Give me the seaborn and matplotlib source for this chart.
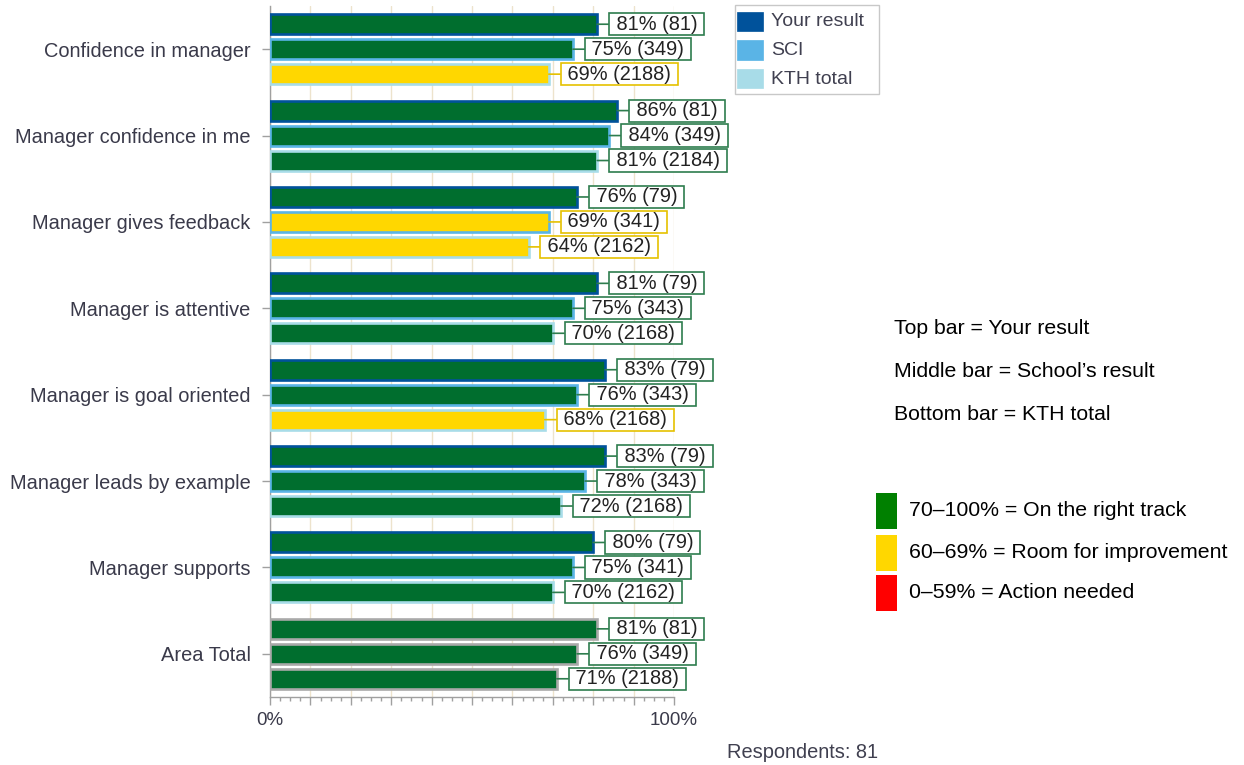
import numpy as np
import pandas as pd
import matplotlib
matplotlib.use("Agg")
import matplotlib.pyplot as plt
import seaborn as sns
from matplotlib.patches import Rectangle

# ---------------- data ----------------
questions = ["Confidence in manager", "Manager confidence in me", "Manager gives feedback",
             "Manager is attentive", "Manager is goal oriented", "Manager leads by example",
             "Manager supports", "Area Total"]
series = ["Your result", "SCI", "KTH total"]
your_pct = [81, 86, 76, 81, 83, 83, 80, 81]
your_n = [81, 81, 79, 79, 79, 79, 79, 81]
sci_pct = [75, 84, 69, 75, 76, 78, 75, 76]
sci_n = [349, 349, 341, 343, 343, 343, 341, 349]
kth_pct = [69, 81, 64, 70, 68, 72, 70, 71]
kth_n = [2188, 2184, 2162, 2168, 2168, 2168, 2162, 2188]
x_tick_labels = {0: "0%", 100: "100%"}
bar_notes = ["Top bar = Your result", "Middle bar = School\u2019s result", "Bottom bar = KTH total"]
scale_notes = ["70\u2013100% = On the right track", "60\u201369% = Room for improvement",
               "0\u201359% = Action needed"]
respondents = 81

# ---------------- style ----------------
W, H = 1244, 765
sns.set_theme(style="white")
plt.rcParams["font.family"] = ["Liberation Sans", "DejaVu Sans"]

GREEN, YELLOW, RED = "#006E2E", "#FFD700", "#FF0000"
LBL_GREEN, LBL_YELLOW, LBL_RED = "#2E7D4E", "#E5C100", "#E03030"
EDGE = {"Your result": "#00529B", "SCI": "#5AB4E6", "KTH total": "#A8DCE8"}
TOTAL_EDGE = "#A9A9A9"
AXIS_GREY = "#A0A0A0"
TEXT_GREY = "#3A3A4A"


def fx(px):
    return px / W


def fy(py):
    return 1 - py / H


fig = plt.figure(figsize=(W / 100, H / 100), dpi=100)
ax = fig.add_axes([fx(270), fy(697), 404 / W, 691 / H])

df = pd.DataFrame({
    "question": questions * 3,
    "series": [s for s in series for _ in questions],
    "pct": your_pct + sci_pct + kth_pct,
    "n": your_n + sci_n + kth_n,
})
pct_by = {"Your result": your_pct, "SCI": sci_pct, "KTH total": kth_pct}
n_by = {"Your result": your_n, "SCI": sci_n, "KTH total": kth_n}

sns.barplot(data=df, x="pct", y="question", hue="series", orient="h",
            order=questions, hue_order=series, width=0.867, gap=0.2,
            dodge=True, errorbar=None, legend=False, saturation=1, ax=ax)

for hi, cont in enumerate(ax.containers):
    s = series[hi]
    for bar in cont:
        yc = bar.get_y() + bar.get_height() / 2
        ci = int(round(yc))
        w = bar.get_width()
        if w >= 70:
            fc, lc = GREEN, LBL_GREEN
        elif w >= 60:
            fc, lc = YELLOW, LBL_YELLOW
        else:
            fc, lc = RED, LBL_RED
        bar.set_facecolor(fc)
        bar.set_edgecolor(TOTAL_EDGE if questions[ci] == "Area Total" else EDGE[s])
        bar.set_linewidth(1.9)
        bar.set_zorder(3)
        txt = f" {pct_by[s][ci]}% ({n_by[s][ci]}) "
        ax.annotate(txt, xy=(w, yc), xytext=(13.5, 0), textcoords="offset pixels",
                    ha="left", va="center", fontsize=14.4, color="#222222",
                    bbox=dict(boxstyle="square,pad=0.08", fc="white", ec=lc, lw=1.2),
                    arrowprops=dict(arrowstyle="-", color=lc, lw=1.2, shrinkA=0, shrinkB=0),
                    annotation_clip=False, zorder=5)

ax.set_xlim(0, 100)
ax.set_ylim(7.5, -0.5)
ax.set_xlabel("")
ax.set_ylabel("")
major = np.arange(0, 101, 10)
ax.set_xticks(major)
ax.set_xticklabels([x_tick_labels.get(int(v), "") for v in major])
ax.set_xticks(np.arange(0, 100.1, 2.5), minor=True)
ax.xaxis.grid(True, which="major", color="#EDE3CC", lw=1, zorder=0)
ax.set_axisbelow(True)
ax.tick_params(axis="x", which="major", bottom=True, length=6, width=1, color=AXIS_GREY,
               labelsize=13.5, labelcolor=TEXT_GREY, pad=5)
ax.tick_params(axis="x", which="minor", bottom=True, length=3, width=1, color=AXIS_GREY)
ax.tick_params(axis="y", left=True, length=6, width=1, color=AXIS_GREY,
               labelsize=14.4, labelcolor=TEXT_GREY, pad=8)
for side in ["top", "right"]:
    ax.spines[side].set_visible(False)
for side in ["bottom", "left"]:
    ax.spines[side].set_color(AXIS_GREY)
    ax.spines[side].set_linewidth(1)

# ---------------- series legend ----------------
fig.add_artist(Rectangle((fx(735), fy(94)), 144 / W, 89 / H, transform=fig.transFigure,
                         fc="white", ec="#C8C8C8", lw=1))
for i, s in enumerate(series):
    top = 12 + i * 28.5
    fig.add_artist(Rectangle((fx(737), fy(top + 19)), 26 / W, 19 / H, transform=fig.transFigure,
                             fc=EDGE[s], ec=EDGE[s], lw=0.5))
    fig.text(fx(771), fy(top + 10), s, fontsize=14, color="#404050", va="center", ha="left")

# ---------------- notes ----------------
for i, t in enumerate(bar_notes):
    fig.text(fx(894), fy(328 + i * 43.5), t, fontsize=15.3, color="black", va="center", ha="left")

scale_cols = [("#008000", 493), ("#FFD700", 535), ("#FF0000", 575)]
for (c, top), t in zip(scale_cols, scale_notes):
    fig.add_artist(Rectangle((fx(876), fy(top + 36)), 21 / W, 36 / H, transform=fig.transFigure,
                             fc=c, ec="none"))
    fig.text(fx(909), fy(top + 17), t, fontsize=15.3, color="black", va="center", ha="left")

fig.text(fx(727), fy(752), f"Respondents: {respondents}", fontsize=14.4, color="#404050",
         va="center", ha="left")

fig.savefig("out.png", dpi=100)
